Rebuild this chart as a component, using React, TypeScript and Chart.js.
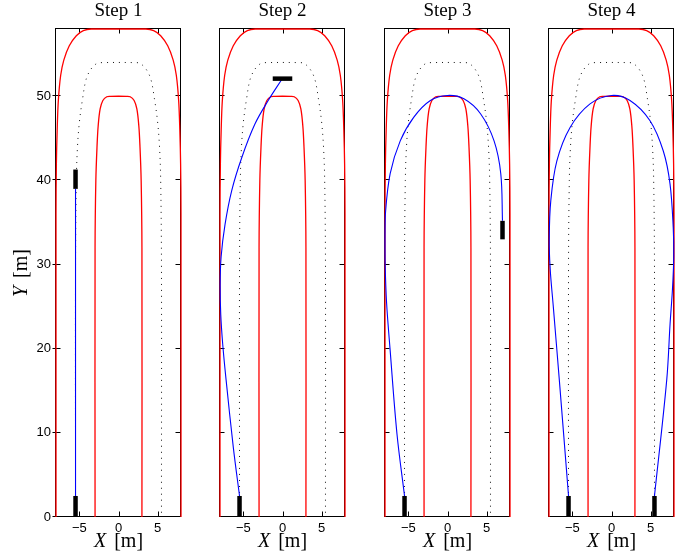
import React, { useEffect, useRef } from "react";
import { Chart, registerables } from "chart.js";

Chart.register(...registerables);

// ---------- text ----------
const stepTitles = ["Step 1", "Step 2", "Step 3", "Step 4"];
const xTickValues = [-5, 0, 5];
const yTickValues = [0, 10, 20, 30, 40, 50];
const xRange = [-8, 8];
const yRange = [0, 58];

// ---------- track (same in every step) ----------
const outerX = [-8, -8, -7.95, -7.85, -7.7, -7.4, -7.0, -6.3, -5.4, -4.5, -3.5, 3.5, 4.5, 5.4, 6.3, 7.0, 7.4, 7.7, 7.85, 7.95, 8, 8];
const outerY = [0, 36, 42, 46, 49.5, 52.5, 54.3, 56, 57.2, 57.8, 58, 58, 57.8, 57.2, 56, 54.3, 52.5, 49.5, 46, 42, 36, 0];

const innerX = [-3, -3, -2.9, -2.75, -2.6, -2.35, -2.0, -1.5, -1.0, 1.0, 1.5, 2.0, 2.35, 2.6, 2.75, 2.9, 3, 3];
const innerY = [0, 32, 40, 44, 46.5, 48.5, 49.5, 49.95, 50, 50, 49.95, 49.5, 48.5, 46.5, 44, 40, 32, 0];

const midX = [-5.5, -5.5, -5.4, -5.25, -5.0, -4.6, -4.15, -3.55, -2.8, -2.3, 2.3, 2.8, 3.55, 4.15, 4.6, 5.0, 5.25, 5.4, 5.5, 5.5];
const midY = [0, 30, 40, 44, 47, 49.7, 52, 53.2, 53.9, 54, 54, 53.9, 53.2, 52, 49.7, 47, 44, 40, 30, 0];

// ---------- vehicle paths ----------
const step1PathX = [-5.5, -5.5];
const step1PathY = [2.5, 39];

const step2PathX = [-5.5, -6.3, -7.22, -7.65, -7.9, -7.98, -7.86, -7.35, -6.5, -5.22, -3.53, -1.83, -0.1];
const step2PathY = [2.5, 8.3, 16.3, 20.5, 24, 27.5, 30.9, 34.8, 38.8, 42.7, 46.7, 49.5, 52];

const step3PathX = [-5.5, -6.47, -7.34, -7.8, -7.98, -8.0, -7.95, -7.34, -6.05, -4.33, -2.19, 0, 2.1, 4.25, 5.96, 6.82, 7.04];
const step3PathY = [2.5, 9.9, 19.8, 25.5, 30, 33, 36, 40.8, 44.7, 47.5, 49.5, 50.1, 49.7, 47.9, 44.7, 40.8, 35.2];

const step4PathX = [-5.5, -6.68, -7.45, -7.85, -7.97, -7.77, -7.0, -5.3, -2.75, 0, 2.37, 4.93, 6.63, 7.49, 7.9, 7.97, 7.8, 7.5, 7.07, 5.5];
const step4PathY = [2.5, 16.3, 25, 29.5, 33, 37.6, 42.3, 46.3, 49.1, 50.1, 49.5, 47.1, 43.5, 39.6, 34.4, 31, 27, 23, 16.3, 2.5];

// ---------- vehicles (start/end of each bar) ----------
const step1VehicleX = [[-5.5, -5.5], [-5.5, -5.5]];
const step1VehicleY = [[0, 2.5], [39, 41.3]];
const step2VehicleX = [[-5.5, -5.5], [-1.25, 1.25]];
const step2VehicleY = [[0, 2.5], [52.1, 52.1]];
const step3VehicleX = [[-5.5, -5.5], [7.04, 7.04]];
const step3VehicleY = [[0, 2.5], [33, 35.2]];
const step4VehicleX = [[-5.5, -5.5], [5.5, 5.5]];
const step4VehicleY = [[0, 2.5], [0, 2.5]];

const pathsX = [step1PathX, step2PathX, step3PathX, step4PathX];
const pathsY = [step1PathY, step2PathY, step3PathY, step4PathY];
const vehiclesX = [step1VehicleX, step2VehicleX, step3VehicleX, step4VehicleX];
const vehiclesY = [step1VehicleY, step2VehicleY, step3VehicleY, step4VehicleY];

// ---------- layout ----------
const W = 694;
const H = 556;
const panelLeft = [56, 220, 385, 549];
const panelWidth = 125;
const plotTop = 29;
const plotBottom = 517;
const xAxisHeight = 30;
const yAxisWidth = 40;

const SERIF = '"Liberation Serif", "Times New Roman", serif';
const SANS = '"Liberation Sans", Arial, sans-serif';

const zip = (xs: number[], ys: number[]) => xs.map((x, i) => ({ x, y: ys[i] }));
const fmt = (v: number) => (v < 0 ? "\u2212" + Math.abs(v) : String(v));

function drawAxisTitle(ctx: CanvasRenderingContext2D, letter: string, cx: number, baseline: number, size: number) {
  const gap = 8;
  ctx.font = `italic ${size}px ${SERIF}`;
  const w1 = ctx.measureText(letter).width;
  ctx.font = `normal ${size}px ${SERIF}`;
  const w2 = ctx.measureText("[m]").width;
  const total = w1 + gap + w2;
  const start = cx - total / 2;
  ctx.fillStyle = "#000";
  ctx.textBaseline = "alphabetic";
  ctx.textAlign = "left";
  ctx.font = `italic ${size}px ${SERIF}`;
  ctx.fillText(letter, start, baseline);
  ctx.font = `normal ${size}px ${SERIF}`;
  ctx.fillText("[m]", start + w1 + gap, baseline);
}

function makeFramePlugin(isFirst: boolean) {
  return {
    id: "frame",
    beforeDatasetsDraw(chart: any) {
      const { ctx, chartArea, scales } = chart;
      const { left, right, top, bottom } = chartArea;
      const x = scales.x;
      const y = scales.y;
      ctx.save();
      ctx.strokeStyle = "#000";
      ctx.lineWidth = 1;
      const l = Math.round(left) - 0.5;
      const r = Math.round(right) - 0.5;
      const t = Math.round(top) - 0.5;
      const b = Math.round(bottom) - 0.5;
      ctx.strokeRect(l, t, r - l, b - t);
      ctx.beginPath();
      xTickValues.forEach((v) => {
        const px = Math.round(x.getPixelForValue(v)) + 0.5;
        ctx.moveTo(px, b);
        ctx.lineTo(px, b - 5);
        ctx.moveTo(px, t);
        ctx.lineTo(px, t + 5);
      });
      yTickValues.forEach((v) => {
        const py = Math.round(y.getPixelForValue(v)) - 0.5;
        ctx.moveTo(l - (isFirst ? 3 : 0), py);
        ctx.lineTo(l + 5, py);
        ctx.moveTo(r, py);
        ctx.lineTo(r - 5, py);
      });
      ctx.stroke();
      ctx.restore();
    },
    afterDraw(chart: any) {
      const { ctx, chartArea } = chart;
      const { left, right, top, bottom } = chartArea;
      ctx.save();
      drawAxisTitle(ctx, "X", (left + right) / 2, 547, 20);
      if (isFirst) {
        ctx.translate(27, (top + bottom) / 2);
        ctx.rotate(-Math.PI / 2);
        drawAxisTitle(ctx, "Y", 0, 0, 20);
      }
      ctx.restore();
    },
  };
}

function buildConfig(i: number): any {
  const isFirst = i === 0;
  const common = { showLine: true, pointRadius: 0, pointHoverRadius: 0, fill: false, clip: 4 };
  const datasets: any[] = [];
  vehiclesX[i].forEach((vx, k) => {
    datasets.push({
      ...common,
      data: zip(vx, vehiclesY[i][k]),
      borderColor: "#000",
      borderWidth: 4.5,
      borderCapStyle: "butt",
      tension: 0,
    });
  });
  datasets.push({ ...common, data: zip(pathsX[i], pathsY[i]), borderColor: "#0000ff", borderWidth: 1.1, tension: 0.35 });
  datasets.push({ ...common, data: zip(midX, midY), borderColor: "#111", borderWidth: 1, borderDash: [1, 5], tension: 0.35 });
  datasets.push({ ...common, data: zip(innerX, innerY), borderColor: "#ff0000", borderWidth: 1.3, tension: 0.35 });
  datasets.push({ ...common, data: zip(outerX, outerY), borderColor: "#ff0000", borderWidth: 1.3, tension: 0.35 });

  const left = panelLeft[i];
  const right = left + panelWidth;
  const tickFont = { family: SANS, size: 13 };
  const yWidth = isFirst ? yAxisWidth : 0;

  return {
    type: "line",
    data: { datasets },
    options: {
      responsive: false,
      animation: false,
      devicePixelRatio: 1,
      events: [],
      layout: {
        padding: {
          left: left - yWidth,
          right: W - right,
          top: 0,
          bottom: H - plotBottom - xAxisHeight,
        },
      },
      plugins: {
        legend: { display: false },
        tooltip: { enabled: false },
        title: {
          display: true,
          text: stepTitles[i],
          fullSize: false,
          color: "#000",
          font: { family: SERIF, size: 19, weight: "normal", lineHeight: 1.2 },
          padding: { top: 0, bottom: plotTop - 19 * 1.2 },
        },
      },
      scales: {
        x: {
          type: "linear",
          min: xRange[0],
          max: xRange[1],
          grid: { display: false, drawTicks: false },
          border: { display: false },
          ticks: { font: tickFont, color: "#000", padding: 4, maxRotation: 0, callback: (v: number) => fmt(v) },
          afterBuildTicks: (s: any) => {
            s.ticks = xTickValues.map((v) => ({ value: v }));
          },
          afterFit: (s: any) => {
            s.height = xAxisHeight;
          },
        },
        y: {
          type: "linear",
          min: yRange[0],
          max: yRange[1],
          display: isFirst,
          grid: { display: false, drawTicks: false },
          border: { display: false },
          ticks: { font: tickFont, color: "#000", padding: 5, callback: (v: number) => fmt(v) },
          afterBuildTicks: (s: any) => {
            s.ticks = yTickValues.map((v) => ({ value: v }));
          },
          afterFit: (s: any) => {
            s.width = yWidth;
          },
        },
      },
    },
    plugins: [makeFramePlugin(isFirst)],
  };
}

function Panel({ index }: { index: number }) {
  const ref = useRef<HTMLCanvasElement>(null);
  useEffect(() => {
    const canvas = ref.current;
    if (!canvas) return;
    const chart = new Chart(canvas, buildConfig(index));
    return () => chart.destroy();
  }, [index]);
  return (
    <canvas
      ref={ref}
      width={W}
      height={H}
      style={{ position: "absolute", left: 0, top: 0, width: W, height: H }}
    />
  );
}

export default function App() {
  return (
    <div style={{ position: "absolute", left: 0, top: 0, width: W, height: H, background: "#fff" }}>
      {stepTitles.map((_, i) => (
        <Panel key={i} index={i} />
      ))}
    </div>
  );
}
